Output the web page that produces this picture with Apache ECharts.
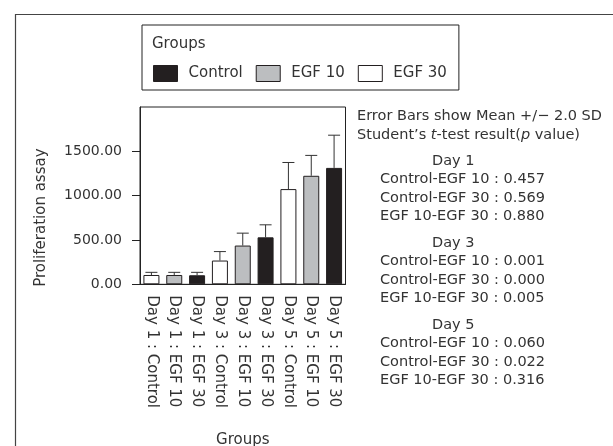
<!DOCTYPE html>
<html>
<head>
<meta charset="utf-8">
<script src="https://cdn.jsdelivr.net/npm/echarts@6/dist/echarts.min.js"></script>
<style>
html,body{margin:0;padding:0;background:#fff;}
#chart{width:613px;height:446px;}
</style>
</head>
<body>
<div id="chart"></div>
<script>
const categories = ["Day 1 : Control","Day 1 : EGF 10","Day 1 : EGF 30","Day 3 : Control","Day 3 : EGF 10","Day 3 : EGF 30","Day 5 : Control","Day 5 : EGF 10","Day 5 : EGF 30"];
const means = [105, 105, 102, 268, 437, 530, 1074, 1224, 1313];
const upperErr = [135, 135, 135, 369, 577, 671, 1374, 1454, 1682];
const fillGroup = ["EGF 30","EGF 10","Control","EGF 30","EGF 10","Control","EGF 30","EGF 10","Control"];
const groups = ["Control","EGF 10","EGF 30"];
const groupColors = ["#231f20","#bcbec0","#ffffff"];
const yTicks = [0, 500, 1000, 1500];
const notesHeader = ["Error Bars show Mean +/\u2212 2.0 SD", "Student\u2019s {i|t}-test result({i|p} value)"];
const dayTitles = ["Day 1", "Day 3", "Day 5"];
const pLines = [
  ["Control-EGF 10 : 0.457", "Control-EGF 30 : 0.569", "EGF 10-EGF 30 : 0.880"],
  ["Control-EGF 10 : 0.001", "Control-EGF 30 : 0.000", "EGF 10-EGF 30 : 0.005"],
  ["Control-EGF 10 : 0.060", "Control-EGF 30 : 0.022", "EGF 10-EGF 30 : 0.316"]
];

const FONT = "DejaVu Sans";
const TXT = "#333333";
const NOTE_FS = 14.5;
const chart = echarts.init(document.getElementById('chart'), null, {renderer: 'canvas'});

const barSeries = groups.map((g, gi) => ({
  type: 'bar',
  name: g,
  barWidth: 16,
  barGap: '-100%',
  itemStyle: {color: groupColors[gi], borderColor: '#231f20', borderWidth: 1},
  data: categories.map((c, i) => fillGroup[i] === g ? means[i] : '-'),
  z: 2
}));

const errSeries = {
  type: 'custom',
  name: 'err',
  z: 3,
  renderItem: function (params, api) {
    const x = api.value(0);
    const top = api.coord([x, api.value(2)]);
    const mid = api.coord([x, api.value(1)]);
    const hw = 6;
    return {
      type: 'group',
      children: [
        {type: 'line', shape: {x1: top[0], y1: top[1], x2: mid[0], y2: mid[1]}, style: {stroke: '#333', lineWidth: 1}},
        {type: 'line', shape: {x1: top[0] - hw, y1: top[1], x2: top[0] + hw, y2: top[1]}, style: {stroke: '#333', lineWidth: 1}}
      ]
    };
  },
  data: categories.map((c, i) => [i, means[i], upperErr[i]])
};

const graphics = [];
graphics.push({type: 'rect', left: 13, top: 12, shape: {x: 0, y: 0, width: 700, height: 500}, style: {fill: 'none', stroke: '#444', lineWidth: 1.2}, silent: true});
const noteX = 357;
graphics.push({type: 'text', x: noteX, y: 116, style: {text: notesHeader[0], font: NOTE_FS + 'px ' + FONT, fill: TXT, verticalAlign: 'middle'}});
graphics.push({type: 'text', x: noteX, y: 135, style: {text: notesHeader[1], font: NOTE_FS + 'px ' + FONT, fill: TXT, verticalAlign: 'middle', rich: {i: {fontStyle: 'italic', fontFamily: FONT, fontSize: NOTE_FS, fill: TXT}}}});
const blockStarts = [161, 243, 325];
blockStarts.forEach((y0, bi) => {
  graphics.push({type: 'text', x: 432, y: y0, style: {text: dayTitles[bi], font: NOTE_FS + 'px ' + FONT, fill: TXT, verticalAlign: 'middle'}});
  pLines[bi].forEach((t, li) => {
    graphics.push({type: 'text', x: 380, y: y0 + 18.5 * (li + 1), style: {text: t, font: NOTE_FS + 'px ' + FONT, fill: TXT, verticalAlign: 'middle'}});
  });
});

chart.setOption({
  animation: false,
  backgroundColor: '#fff',
  textStyle: {fontFamily: FONT},
  title: {text: 'Groups', left: 152, top: 37, padding: 0, textStyle: {fontFamily: FONT, fontSize: 15, fontWeight: 'normal', color: TXT}},
  legend: {
    data: groups,
    left: 142, top: 25,
    orient: 'horizontal',
    icon: 'rect',
    itemWidth: 24, itemHeight: 16,
    itemGap: 13,
    padding: [40, 12, 8, 11],
    borderColor: '#222', borderWidth: 1,
    textStyle: {fontFamily: FONT, fontSize: 15, color: TXT, padding: [0, 0, 0, 6]},
    itemStyle: {borderColor: '#231f20', borderWidth: 1},
    selectedMode: false
  },
  grid: {left: 140, top: 107, right: 267.5, bottom: 161.7, show: true, borderColor: '#222', borderWidth: 1, outerBoundsMode: 'none'},
  xAxis: {
    type: 'category',
    data: categories,
    name: 'Groups',
    nameLocation: 'middle',
    nameGap: 148,
    nameTextStyle: {fontFamily: FONT, fontSize: 15, color: TXT},
    axisLine: {lineStyle: {color: '#222', width: 1}},
    axisTick: {length: 6, lineStyle: {color: '#222'}},
    axisLabel: {rotate: -90, margin: 11, interval: 0, fontFamily: FONT, fontSize: 15, color: TXT}
  },
  yAxis: {
    type: 'value',
    min: 0, max: 2000, interval: 500,
    name: 'Proliferation assay',
    nameLocation: 'middle',
    nameGap: 91,
    nameTextStyle: {fontFamily: FONT, fontSize: 15, color: TXT, padding: [0, 44, 0, 0]},
    splitLine: {show: false},
    axisLine: {show: true, lineStyle: {color: '#222', width: 1}},
    axisTick: {show: true, length: 8, lineStyle: {color: '#222'}, customValues: yTicks},
    axisLabel: {margin: 18, fontFamily: FONT, fontSize: 14, color: TXT, customValues: yTicks, formatter: v => v.toFixed(2)}
  },
  graphic: graphics,
  series: barSeries.concat([errSeries])
});
</script>
</body>
</html>
